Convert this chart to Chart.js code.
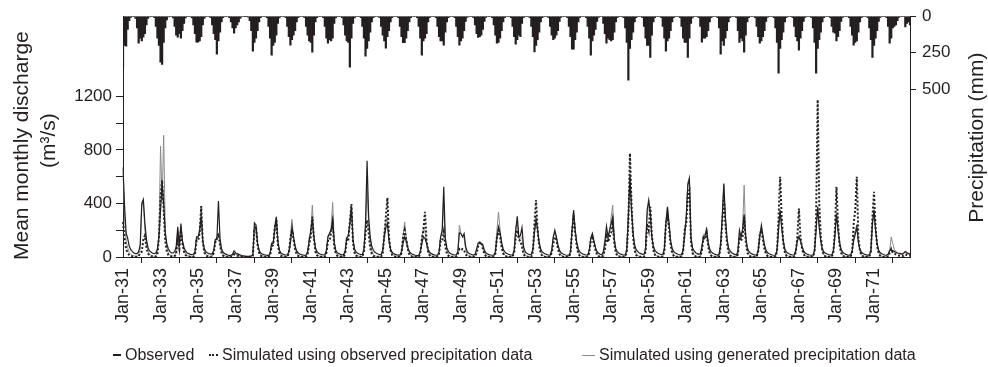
<!DOCTYPE html>
<html>
<head>
<meta charset="utf-8">
<script src="https://cdn.jsdelivr.net/npm/chart.js@4.4.0/dist/chart.umd.min.js"></script>
<style>
    body { margin: 0; background: #fff; }
    #wrap { position: relative; width: 988px; height: 367px; font-family: "Liberation Sans", Arial, sans-serif; color: #231f20; }
    #legend { position: absolute; top: 345px; left: 0; width: 988px; height: 20px; font-size: 16px; }
    .item { position: absolute; top: 0; white-space: nowrap; display: flex; align-items: center; height: 20px; }
    .swatch { display: inline-block; width: 8px; height: 0; margin-right: 4px; }
</style>
</head>
<body>
<div id="wrap">
    <canvas id="flowChart" width="988" height="367"></canvas>
    <div id="legend">
        <span class="item" style="left:113px"><span class="swatch" style="border-top:2px solid #231f20"></span>Observed</span>
        <span class="item" style="left:209px"><span class="swatch" style="width:9px;border-top:2px dotted #231f20"></span>Simulated using observed precipitation data</span>
        <span class="item" style="left:582px"><span class="swatch" style="width:13px;border-top:1px solid #8a8a8a"></span>Simulated using generated precipitation data</span>
    </div>
</div>
<script>
// 1931年1月〜1972年12月の月別データ
const firstYear = 1931;
const lastYear = 1972;
const monthNames = ['Jan', 'Feb', 'Mar', 'Apr', 'May', 'Jun', 'Jul', 'Aug', 'Sep', 'Oct', 'Nov', 'Dec'];

// 降水量 (mm)
const precip = [
    356,200,205,90,30,8,3,2,15,80,185,150,   // 1931
    170,144,120,60,15,5,2,2,10,70,150,200,   // 1932
    315,330,180,80,25,5,3,2,12,70,130,144,   // 1933
    120,150,100,50,12,3,2,2,12,60,120,178,   // 1934
    178,170,140,60,15,3,2,2,10,60,120,160,   // 1935
    260,170,110,40,10,3,2,2,10,40,80,117,    // 1936
    80,60,40,15,4,2,1,1,6,30,100,240,        // 1937
    180,150,100,40,10,3,2,2,10,70,150,267,   // 1938
    200,180,130,50,12,3,2,2,10,70,140,199,   // 1939
    160,130,100,40,10,3,2,2,10,70,130,170,   // 1940
    180,247,130,40,10,3,2,2,10,70,150,185,   // 1941
    160,170,150,50,12,3,2,2,10,60,130,170,   // 1942
    180,350,150,50,12,3,2,2,10,70,150,274,   // 1943
    220,170,110,40,10,3,2,2,10,70,130,170,   // 1944
    219,140,100,40,10,3,2,2,10,70,140,182,   // 1945
    182,150,100,40,10,3,2,2,10,70,150,267,   // 1946
    170,150,120,40,10,3,2,2,10,70,140,170,   // 1947
    170,199,110,40,10,3,2,2,10,70,140,199,   // 1948
    170,150,100,35,8,3,2,2,10,60,120,146,    // 1949
    140,130,90,35,8,3,2,2,10,60,130,185,     // 1950
    180,150,100,40,10,3,2,2,10,70,140,192,   // 1951
    160,130,140,50,10,3,2,2,10,70,140,245,   // 1952
    200,160,110,40,10,3,2,2,10,70,130,160,   // 1953
    150,130,100,35,8,3,2,2,10,70,140,226,    // 1954
    226,160,110,40,10,3,2,2,10,70,150,267,   // 1955
    170,130,90,35,8,3,2,50,120,185,150,160,  // 1956
    170,160,110,40,10,3,2,2,10,80,180,438,   // 1957
    220,160,110,40,10,3,2,2,10,70,150,200,   // 1958
    200,283,130,40,10,3,2,2,10,70,150,240,   // 1959
    170,150,100,40,10,3,2,2,10,70,150,180,   // 1960
    180,283,150,50,12,3,2,2,10,70,178,150,   // 1961
    150,140,100,40,10,3,2,2,10,80,260,170,   // 1962
    200,150,100,40,10,3,2,2,10,100,180,150,  // 1963
    170,247,130,40,10,3,2,2,10,70,140,185,   // 1964
    170,140,100,35,8,3,2,2,10,80,180,390,    // 1965
    220,160,110,40,10,3,2,2,10,70,140,170,   // 1966
    233,150,100,35,8,3,2,2,10,80,180,390,    // 1967
    220,160,110,40,10,3,2,2,10,70,110,117,   // 1968
    170,140,100,35,8,3,2,2,10,70,130,199,    // 1969
    180,170,110,40,10,3,2,2,10,80,160,283,   // 1970
    200,150,100,35,8,3,2,2,10,70,185,150,    // 1971
    80,70,60,30,8,3,2,2,73,50,40,60          // 1972
];

// 観測流量 (m3/s)
const observed = [
    670,380,180,140,80,55,40,30,25,25,40,90,
    400,430,250,130,70,45,35,28,25,30,60,150,
    350,560,400,180,100,60,40,30,30,40,80,225,
    80,250,120,70,45,30,25,20,18,20,40,150,
    150,200,300,120,60,40,30,25,22,25,50,130,
    130,418,140,60,35,25,20,15,12,12,20,45,
    30,25,20,15,10,8,6,5,5,5,8,15,
    255,240,100,50,30,22,18,15,12,12,25,100,
    100,200,300,120,50,30,22,18,15,15,40,100,
    225,150,80,45,30,22,18,15,12,15,40,120,
    200,275,150,70,40,28,22,18,15,18,50,150,
    180,200,280,110,50,32,25,20,16,18,45,140,
    160,250,375,130,60,38,28,22,18,20,60,250,
    720,300,150,80,50,35,28,22,18,20,50,150,
    220,250,120,60,35,25,20,16,14,15,40,100,
    150,120,70,40,28,20,16,13,11,12,35,100,
    150,140,100,55,35,25,20,16,13,14,40,150,
    200,525,140,70,40,28,22,18,15,16,40,180,
    175,150,175,80,40,28,22,18,15,20,60,100,
    112,100,90,50,30,22,18,15,13,14,40,140,
    225,180,110,60,38,28,22,18,15,16,50,200,
    305,150,160,220,80,40,28,22,18,20,60,180,
    275,200,110,60,38,28,22,18,15,16,50,150,
    200,150,90,50,32,24,19,15,13,14,40,200,
    350,200,110,60,38,28,22,18,15,16,50,140,
    175,120,70,40,28,20,16,40,120,230,150,200,
    250,300,130,60,38,28,22,18,15,16,60,300,
    600,350,180,90,55,40,30,25,20,22,60,350,
    425,330,150,80,50,35,28,22,18,20,60,250,
    375,250,120,65,40,30,24,19,16,18,50,160,
    300,537,587,150,70,45,32,25,20,25,80,150,
    160,200,110,60,38,28,22,18,15,20,100,300,
    550,300,140,70,45,32,25,20,16,40,200,150,
    200,320,150,70,42,30,23,18,15,16,50,150,
    237,160,90,50,32,24,19,15,13,14,50,200,
    350,220,120,60,38,28,22,18,15,16,50,120,
    150,120,80,45,30,22,18,15,13,14,50,200,
    375,220,120,60,38,28,22,18,15,16,45,150,
    325,200,110,55,35,26,20,16,14,15,45,120,
    170,225,110,55,35,26,20,16,14,15,50,250,
    350,200,100,50,32,24,19,15,13,20,50,50,
    50,40,35,30,28,25,22,30,40,30,25,20
];

// 観測降水量によるシミュレーション
const simObserved = [
    260,140,60,30,15,8,5,3,2,2,5,30,
    40,130,160,70,25,10,5,3,2,3,20,150,
    450,575,350,120,40,15,8,4,3,5,30,120,
    60,200,100,40,15,6,3,2,1,2,20,120,
    120,180,380,110,35,12,5,3,2,3,30,110,
    140,175,90,30,10,4,2,1,1,1,5,20,
    15,10,8,5,3,2,1,1,1,1,2,10,
    200,230,90,30,10,4,2,1,1,1,10,80,
    90,220,280,90,25,8,3,2,1,2,25,140,
    200,130,60,20,8,3,1,1,1,2,20,100,
    150,300,140,40,12,4,2,1,1,2,30,120,
    120,180,250,80,25,8,3,2,1,2,25,130,
    120,260,395,110,30,10,4,2,1,2,40,180,
    275,180,70,25,8,3,1,1,1,2,30,160,
    300,443,150,50,15,5,2,1,1,2,30,150,
    200,130,60,20,6,2,1,1,1,2,25,130,
    200,337,130,40,12,4,2,1,1,2,25,120,
    120,187,80,25,8,3,1,1,1,2,20,60,
    50,60,50,20,6,2,1,1,1,2,30,80,
    100,112,60,20,6,2,1,1,1,2,25,150,
    200,150,70,25,8,3,1,1,1,2,30,150,
    200,130,120,80,20,6,2,1,1,2,40,250,
    425,200,80,25,8,3,1,1,1,2,30,100,
    150,130,60,20,6,2,1,1,1,2,25,180,
    310,180,80,25,8,3,1,1,1,2,30,120,
    140,100,50,15,5,2,1,10,60,150,110,150,
    180,250,100,30,8,3,1,1,1,2,40,250,
    775,400,150,50,15,5,2,1,1,2,40,250,
    200,375,160,50,15,5,2,1,1,2,40,250,
    300,220,90,30,8,3,1,1,1,2,40,200,
    250,480,500,120,30,10,4,2,1,3,50,140,
    130,180,80,25,8,3,1,1,1,5,80,250,
    450,250,110,35,10,4,2,1,1,20,150,120,
    150,300,120,35,10,4,2,1,1,2,40,170,
    200,130,60,20,6,2,1,1,1,2,40,300,
    600,300,110,35,10,4,2,1,1,2,35,150,
    362,150,60,20,6,2,1,1,1,2,40,300,
    1175,400,150,45,12,4,2,1,1,2,30,200,
    525,250,90,30,8,3,1,1,1,2,35,250,
    350,600,150,45,12,4,2,1,1,2,40,300,
    487,220,80,25,8,3,1,1,1,2,30,60,
    30,25,20,15,10,8,6,10,20,15,12,10
];

// 発生降水量によるシミュレーション
const simGenerated = [
    650,300,120,70,35,20,12,8,5,5,15,60,
    380,420,200,100,40,20,12,8,5,8,40,180,
    830,420,910,200,80,30,15,10,6,10,40,200,
    70,230,110,50,20,10,6,4,3,4,30,140,
    140,190,370,120,45,20,10,6,4,6,40,120,
    150,180,100,40,15,8,5,3,2,2,10,30,
    20,15,10,6,4,3,2,1,1,1,3,15,
    230,220,100,40,15,8,5,3,2,3,20,110,
    110,240,300,110,35,15,8,5,3,4,30,160,
    282,140,70,30,12,6,3,2,1,3,30,150,
    180,388,160,60,20,8,4,3,2,3,40,160,
    160,220,408,120,35,15,8,5,3,4,35,150,
    150,270,380,120,40,18,9,5,3,4,50,200,
    525,250,100,45,18,9,5,3,2,4,40,180,
    260,300,130,50,18,9,5,3,2,3,35,160,
    262,150,80,30,10,5,3,2,1,2,30,150,
    212,190,110,45,15,7,4,3,2,3,30,150,
    180,400,120,50,18,8,4,3,2,3,30,237,
    175,160,140,60,20,9,5,3,2,4,50,112,
    110,105,80,35,12,6,3,2,1,3,35,200,
    337,200,100,40,15,7,4,3,2,3,40,220,
    250,140,140,150,40,15,7,4,3,4,50,220,
    300,210,100,40,15,7,4,3,2,3,40,150,
    180,140,80,35,12,6,3,2,1,3,35,200,
    350,200,100,40,15,7,4,3,2,3,40,150,
    175,110,60,25,8,4,2,20,80,180,120,180,
    300,388,140,50,15,7,4,3,2,3,50,350,
    620,380,170,70,25,10,5,3,2,3,50,300,
    400,350,160,60,20,9,5,3,2,3,50,280,
    375,240,110,45,15,7,4,3,2,3,45,220,
    280,560,590,130,40,18,9,5,3,4,60,170,
    170,225,100,40,15,7,4,3,2,5,90,280,
    540,280,130,50,18,8,4,3,2,25,180,140,
    220,537,160,55,18,8,4,3,2,3,50,180,
    220,150,80,35,12,6,3,2,1,3,45,250,
    350,220,110,45,15,7,4,3,2,3,40,130,
    160,130,70,30,10,5,3,2,1,3,45,220,
    360,220,110,45,15,7,4,3,2,3,40,170,
    320,200,100,40,14,7,4,3,2,3,40,150,
    200,240,110,45,15,7,4,3,2,3,45,260,
    350,210,90,35,12,6,3,2,1,3,40,150,
    100,60,40,30,25,20,18,25,40,35,30,25
];

// 軸目盛り
const dischargeTicks = [0, 200, 400, 600, 800, 1000, 1200];
const dischargeLabeled = [0, 400, 800, 1200];
const precipTicks = [0, 250, 500];
const labelEvery = 24; // 2年ごと

// ラベル (Jan-31 など)
const labels = [];
for (let y = firstYear; y <= lastYear; y++) {
    for (let m = 0; m < 12; m++) {
        labels.push(monthNames[m] + '-' + String(y).slice(2));
    }
}

const ink = '#231f20';
const fontFamily = '"Liberation Sans", Arial, sans-serif';
Chart.defaults.font.family = fontFamily;
Chart.defaults.color = ink;

// 軸タイトル(左は2行、右は下から上へ)
const axisTitles = {
    id: 'axisTitles',
    afterDraw(chart) {
        const ctx = chart.ctx;
        const a = chart.chartArea;
        const mid = (a.top + a.bottom) / 2;
        ctx.save();
        ctx.fillStyle = ink;
        ctx.textAlign = 'center';
        ctx.textBaseline = 'middle';
        const vText = (txt, x, y, size) => {
            ctx.save();
            ctx.font = size + 'px ' + fontFamily;
            ctx.translate(x, y);
            ctx.rotate(-Math.PI / 2);
            ctx.fillText(txt, 0, 0);
            ctx.restore();
        };
        vText('Mean monthly discharge', 22, mid + 9, 21);
        vText('(m\u00b3/s)', 49, mid + 4, 21);
        vText('Precipitation (mm)', 977, mid + 1, 21);
        ctx.restore();
    }
};

const chart = new Chart(document.getElementById('flowChart'), {
    data: {
        labels: labels,
        datasets: [
            {
                type: 'line',
                label: 'Observed',
                data: observed,
                yAxisID: 'y',
                borderColor: ink,
                borderWidth: 1.2,
                pointRadius: 0,
                tension: 0,
                order: 0
            },
            {
                type: 'line',
                label: 'Simulated using observed precipitation data',
                data: simObserved,
                yAxisID: 'y',
                borderColor: ink,
                borderWidth: 2,
                borderDash: [2, 2],
                pointRadius: 0,
                tension: 0,
                order: 1
            },
            {
                type: 'line',
                label: 'Simulated using generated precipitation data',
                data: simGenerated,
                yAxisID: 'y',
                borderColor: '#8a8a8a',
                borderWidth: 1,
                pointRadius: 0,
                tension: 0,
                order: 2
            },
            {
                type: 'bar',
                label: 'Precipitation',
                data: precip,
                yAxisID: 'y2',
                backgroundColor: ink,
                barPercentage: 1,
                categoryPercentage: 1,
                order: 3
            }
        ]
    },
    options: {
        responsive: false,
        animation: false,
        devicePixelRatio: 1,
        layout: { padding: { top: 16, left: 0, right: 0, bottom: 0 } },
        plugins: {
            legend: { display: false },
            tooltip: { enabled: false }
        },
        scales: {
            x: {
                type: 'category',
                offset: false,
                afterBuildTicks: s => { s.ticks = s.ticks.filter(t => t.value % labelEvery === 0); },
                afterFit: s => { s.height = 110; },
                grid: { display: true, drawOnChartArea: false, drawTicks: true, tickLength: 6, color: ink },
                border: { display: true, color: ink, width: 1 },
                ticks: {
                    autoSkip: false,
                    maxRotation: 90,
                    minRotation: 90,
                    padding: 5,
                    font: { size: 18 },
                    color: ink
                }
            },
            y: {
                position: 'left',
                min: 0,
                max: 1800,
                afterBuildTicks: s => { s.ticks = dischargeTicks.map(v => ({ value: v })); },
                afterFit: s => { s.width = 123; },
                grid: { display: true, drawOnChartArea: false, drawTicks: true, tickLength: 7, color: ink },
                border: { display: true, color: ink, width: 1 },
                ticks: {
                    padding: 4,
                    font: { size: 17 },
                    color: ink,
                    callback: v => dischargeLabeled.includes(v) ? String(v) : ''
                }
            },
            y2: {
                position: 'right',
                reverse: true,
                min: 0,
                max: 1650,
                afterBuildTicks: s => { s.ticks = precipTicks.map(v => ({ value: v })); },
                afterFit: s => { s.width = 78; },
                grid: { display: true, drawOnChartArea: false, drawTicks: true, tickLength: 6, color: ink },
                border: { display: true, color: ink, width: 1 },
                ticks: {
                    padding: 6,
                    font: { size: 17 },
                    color: ink
                }
            }
        }
    },
    plugins: [axisTitles]
});
</script>
</body>
</html>
